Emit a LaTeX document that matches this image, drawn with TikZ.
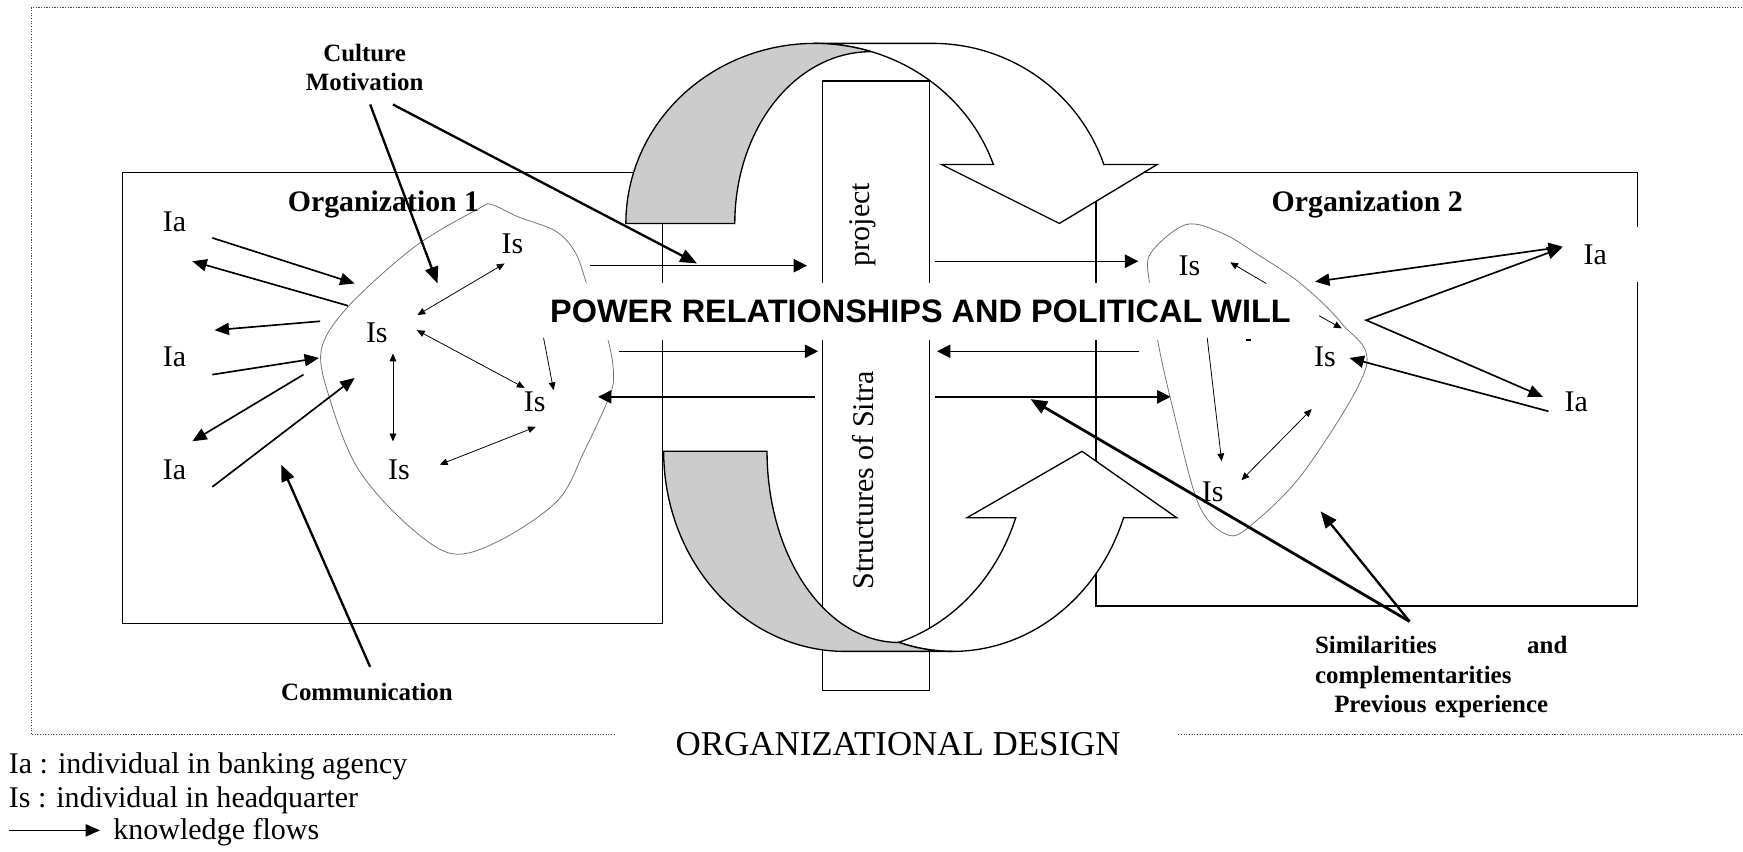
\documentclass[tikz,border=0pt]{standalone}
\usepackage{fontspec}
\setmainfont{Liberation Serif}
\newfontfamily\bandfont{Liberation Sans}
\usetikzlibrary{arrows.meta}
\definecolor{backface}{gray}{0.8}
\definecolor{outline}{gray}{0.45}
\begin{document}
\begin{tikzpicture}[x=0.5pt,y=-0.5pt,
  every node/.style={inner sep=0pt, outer sep=0pt},
  txt/.style={font=\fontsize{13.5}{16}\selectfont, anchor=base},
  bigtxt/.style={font=\fontsize{15.7}{19}\selectfont, anchor=base},
  tag/.style={font=\fontsize{11.2}{13.25}\selectfont\bfseries},
  orgname/.style={font=\fontsize{13.4}{16}\selectfont\bfseries, anchor=base},
  frameline/.style={draw=black!75, line width=0.5pt, dash pattern=on 0.5pt off 0.7pt},
  box/.style={draw=black, line width=0.6pt},
  cluster/.style={draw=outline, line width=0.35pt},
  ribbon/.style={draw=black, line width=0.6pt, line join=miter},
  flow/.style={line width=0.75pt, -{Triangle[length=6.5pt,width=5.5pt]}},
  flows/.style={line width=0.75pt, {Triangle[length=6.5pt,width=5.5pt]}-{Triangle[length=6.5pt,width=5.5pt]}},
  cross/.style={line width=0.6pt, -{Triangle[length=6pt,width=6pt]}},
  factor/.style={line width=1.05pt, -{Triangle[length=7.5pt,width=6pt]}},
  fine/.style={line width=0.35pt, -{Triangle[length=3.5pt,width=3pt]}},
  fines/.style={line width=0.35pt, {Triangle[length=3.5pt,width=3pt]}-{Triangle[length=3.5pt,width=3pt]}},
]
\useasboundingbox (0,0) rectangle (1568,766);

% dotted frame of the organizational design
\draw[frameline] (553,661) -- (28,661) -- (28,7) -- (1568,7);
\draw[frameline] (1060,661) -- (1568,661);

% the two organizations and the project column
\draw[box] (110,155) rectangle (596,561);
\draw[box] (1473,204) -- (1473,155) -- (986,155) -- (986,545) -- (1473,545) -- (1473,254);
\draw[box] (740,73) rectangle (836,621);

% headquarter clusters
\draw[cluster] plot[smooth cycle, tension=0.55] coordinates {(442,184) (466,195) (500,208) (518,228) (530,262) (547,306) (552,340) (546,362) (526,405) (502,450) (450,486) (406,498) (362,468) (321,420) (297,360) (289,315) (313,276) (373,222) (430,188)};
\draw[cluster] plot[smooth cycle, tension=0.55] coordinates {(1067,202) (1100,210) (1130,228) (1170,255) (1207,291) (1229,330) (1174,423) (1126,472) (1104,481) (1078,453) (1054,363) (1041,304) (1034,255) (1035,228)};

% upper U-turn arrow
\draw[ribbon, fill=white] (733,39) -- (839,39)
  -- plot[domain=270:340.9, samples=40] ({839+163*cos(\x)},{201+162*sin(\x)})
  -- (1041,148) -- (953,201) -- (847,148) -- (893.6,148)
  -- plot[domain=340.9:270, samples=40] ({733+170*cos(\x)},{201+162*sin(\x)}) -- cycle;
\draw[ribbon, fill=backface] (563,201)
  -- plot[domain=180:287.1, samples=40] ({733+170*cos(\x)},{201+162*sin(\x)})
  -- plot[domain=270:180, samples=40] ({783+122*cos(\x)},{201+154.5*sin(\x)}) -- cycle;

% lower U-turn arrow
\draw[ribbon, fill=white] plot[domain=72.7:19.37, samples=40] ({760+163*cos(\x)},{406+180*sin(\x)})
  -- (870,465.7) -- (973.4,406) -- (1058.5,465.7) -- (1010.8,465.7)
  -- plot[domain=19.37:107.3, samples=40] ({857+163*cos(\x)},{406+180*sin(\x)}) -- cycle;
\draw[ribbon, fill=backface] (690,406) -- (597,406)
  -- plot[domain=180:90, samples=40] ({760+163*cos(\x)},{406+180*sin(\x)})
  -- (857,586)
  -- plot[domain=90:107.3, samples=10] ({857+163*cos(\x)},{406+180*sin(\x)})
  -- plot[domain=90:180, samples=40] ({808.6+118.6*cos(\x)},{406+172*sin(\x)}) -- cycle;

% central band
\node[fill=white, minimum width=340pt, minimum height=25.5pt,
      font=\bandfont\bfseries\fontsize{14.6}{17}\selectfont] (power) at (828,280.5)
  {POWER RELATIONSHIPS AND POLITICAL WILL};

% labels
\node[tag, text width=60pt, align=center, anchor=base] (culture) at (328,55) {Culture\\Motivation};
\node[orgname] (org1) at (345,190) {Organization 1};
\node[orgname] (org2) at (1230,190) {Organization 2};
\node[tag, anchor=base] (comm) at (330,630) {Communication};
\node[tag, text width=113.5pt, align=left, anchor=base west] (simil) at (1183,588)
  {Similarities\hfill and\\complementarities\\\hfill Previous experience\hfill\null};

\node[txt] (ia1) at (157,208) {Ia};
\node[txt] (ia2) at (157,330) {Ia};
\node[txt] (ia3) at (157,431) {Ia};
\node[txt] (ia4) at (1435,238) {Ia};
\node[txt] (ia5) at (1418,370) {Ia};
\node[txt] (is1) at (339,308) {Is};
\node[txt] (is2) at (461,228) {Is};
\node[txt] (is3) at (481,370) {Is};
\node[txt] (is4) at (359,431) {Is};
\node[txt] (is5) at (1070,248) {Is};
\node[txt] (is6) at (1192,330) {Is};
\node[txt] (is7) at (1091,451) {Is};

\node[txt, rotate=90, anchor=center] (proj) at (776,202) {project};
\node[txt, rotate=90, anchor=center] (struct) at (776,432) {Structures of Sitra};
\node[bigtxt] (design) at (808,680) {ORGANIZATIONAL DESIGN};

\node[txt, anchor=base west] (lega) at (8,696) {Ia : individual in banking agency};
\node[txt, anchor=base west] (legs) at (8,726) {Is : individual in headquarter};
\node[txt, anchor=base west] (legk) at (102,755) {knowledge flows};

% end points of the flows
\coordinate (a1s) at (191,214);   \coordinate (a1e) at (319,255);
\coordinate (a2s) at (313,275);   \coordinate (a2e) at (173,235);
\coordinate (a3s) at (288,289);   \coordinate (a3e) at (193,297);
\coordinate (a4s) at (191,337);   \coordinate (a4e) at (287,322);
\coordinate (a5s) at (273,337);   \coordinate (a5e) at (173,397);
\coordinate (a6s) at (191,438);   \coordinate (a6e) at (319,340);
\coordinate (cu1s) at (333,94);   \coordinate (cu1e) at (393.6,255);
\coordinate (cu2s) at (353.5,94); \coordinate (cu2e) at (627,237);
\coordinate (cos) at (333,600);   \coordinate (coe) at (253,418);
\coordinate (t1s) at (375.5,283.4); \coordinate (t1e) at (454,237);
\coordinate (t2s) at (375,297);   \coordinate (t2e) at (472,349);
\coordinate (t3s) at (353.5,318); \coordinate (t3e) at (353.5,397);
\coordinate (t4s) at (489,304);   \coordinate (t4e) at (498,351);
\coordinate (t5s) at (395.6,418); \coordinate (t5e) at (482,384);
\coordinate (h1s) at (531,239);   \coordinate (h1e) at (726,239);
\coordinate (h2s) at (557,316);   \coordinate (h2e) at (736,316);
\coordinate (h3s) at (733,357);   \coordinate (h3e) at (538,357);
\coordinate (h4s) at (841,235);   \coordinate (h4e) at (1024,235);
\coordinate (h5s) at (1025,316);  \coordinate (h5e) at (843,316);
\coordinate (h6s) at (841,357);   \coordinate (h6e) at (1053,357);
\coordinate (sim) at (1268,559);  \coordinate (sime1) at (927,359); \coordinate (sime2) at (1188,460);
\coordinate (b1s) at (1406,222);  \coordinate (b1e) at (1183,253.4);
\coordinate (vtop) at (1405,223); \coordinate (vmid) at (1229,288); \coordinate (vbot) at (1388,357);
\coordinate (b3s) at (1393,370);  \coordinate (b3e) at (1214,322);
\coordinate (u1s) at (1139,255);  \coordinate (u1e) at (1106.7,236);
\coordinate (u2s) at (1186.6,284); \coordinate (u2e) at (1207,295.4);
\coordinate (u3s) at (1086,304);  \coordinate (u3e) at (1099,415);
\coordinate (u4s) at (1180,368);  \coordinate (u4e) at (1116.8,432);
\coordinate (dash1) at (1121,306); \coordinate (dash2) at (1125,306);
\coordinate (ks) at (8,747);      \coordinate (ke) at (90,747);

% organization 1
\draw[flow] (a1s) -- (a1e);
\draw[flow] (a2s) -- (a2e);
\draw[flow] (a3s) -- (a3e);
\draw[flow] (a4s) -- (a4e);
\draw[flow] (a5s) -- (a5e);
\draw[flow] (a6s) -- (a6e);
\draw[fines] (t1s) -- (t1e);
\draw[fines] (t2s) -- (t2e);
\draw[fines] (t3s) -- (t3e);
\draw[fine] (t4s) -- (t4e);
\draw[fines] (t5s) -- (t5e);

% influences
\draw[factor] (cu1s) -- (cu1e);
\draw[factor] (cu2s) -- (cu2e);
\draw[factor] (cos) -- (coe);
\draw[factor, line width=1.25pt] (sim) -- (sime1);
\draw[factor] (sim) -- (sime2);

% flows across the project
\draw[cross] (h1s) -- (h1e);
\draw[cross] (h2s) -- (h2e);
\draw[cross] (h3s) -- (h3e);
\draw[cross] (h4s) -- (h4e);
\draw[cross] (h5s) -- (h5e);
\draw[cross] (h6s) -- (h6e);

% organization 2
\draw[flows] (b1s) -- (b1e);
\draw[flows] (vtop) -- (vmid) -- (vbot);
\draw[flow] (b3s) -- (b3e);
\draw[fine] (u1s) -- (u1e);
\draw[fine] (u2s) -- (u2e);
\draw[fine] (u3s) -- (u3e);
\draw[fines] (u4s) -- (u4e);
\draw[line width=0.8pt] (dash1) -- (dash2);

% legend arrow
\draw[flow] (ks) -- (ke);
\end{tikzpicture}
\end{document}
